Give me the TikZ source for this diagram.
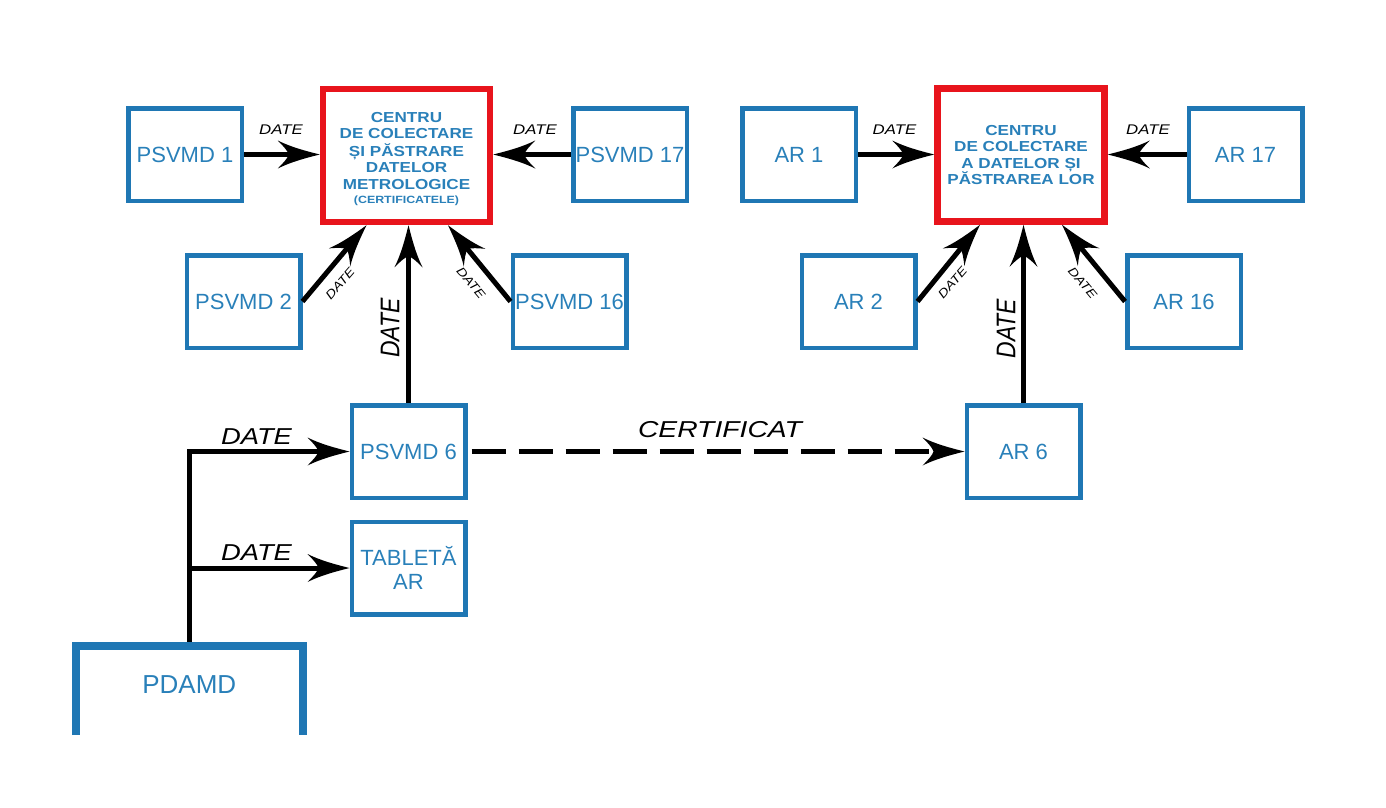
\documentclass[tikz,border=0pt]{standalone}
\usepackage{fontspec}
\usepackage{graphicx}
\setmainfont{Liberation Sans}
\newfontfamily\widef[FakeStretch=1.18]{Liberation Sans}
\usetikzlibrary{arrows.meta,calc}
\definecolor{bl}{RGB}{31,119,180}
\definecolor{blt}{RGB}{41,128,185}
\definecolor{rd}{RGB}{232,20,28}
\pgfdeclarearrow{
  name = CurvedHead,
  setup code = {
    \pgfarrowssettipend{0pt}
    \pgfarrowssetbackend{-42pt}
    \pgfarrowssetlineend{-28pt}
    \pgfarrowsupperhullpoint{0pt}{0pt}
    \pgfarrowsupperhullpoint{-42pt}{14pt}
  },
  drawing code = {
    \pgfpathmoveto{\pgfqpoint{0pt}{0pt}}
    \pgfpathcurveto{\pgfqpoint{-14pt}{3.5pt}}{\pgfqpoint{-29pt}{7.5pt}}{\pgfqpoint{-42pt}{14pt}}
    \pgfpathcurveto{\pgfqpoint{-36pt}{8pt}}{\pgfqpoint{-32pt}{3.5pt}}{\pgfqpoint{-31pt}{0pt}}
    \pgfpathcurveto{\pgfqpoint{-32pt}{-3.5pt}}{\pgfqpoint{-36pt}{-8pt}}{\pgfqpoint{-42pt}{-14pt}}
    \pgfpathcurveto{\pgfqpoint{-29pt}{-7.5pt}}{\pgfqpoint{-14pt}{-3.5pt}}{\pgfqpoint{0pt}{0pt}}
    \pgfpathclose
    \pgfusepathqfill
  }
}
\begin{document}
\begin{tikzpicture}[x=1pt,y=-1pt,
  bbox/.style={draw=bl, line width=4.5pt, minimum width=113.5pt, minimum height=92.5pt,
    inner sep=0pt, text=blt, font=\fontsize{22}{24}\selectfont, align=center},
  rbox/.style={draw=rd, line width=6.5pt, minimum width=167pt, minimum height=133pt,
    inner sep=0pt, text=blt, font=\widef\bfseries\fontsize{14.5}{16.5}\selectfont, align=center},
  arr/.style={line width=5pt, -{CurvedHead}},
  slbl/.style={inner sep=0pt, font=\itshape\fontsize{14}{14}\selectfont},
  dlbl/.style={inner sep=0pt, font=\itshape\fontsize{12}{12}\selectfont},
  vlbl/.style={inner sep=0pt, rotate=90, font=\itshape\fontsize{27}{27}\selectfont},
  blbl/.style={inner sep=0pt, font=\itshape\fontsize{23}{23}\selectfont}
]
\useasboundingbox (0,0) rectangle (1386,807);

% centres
\node[rbox] (c1) at (406.5,155.5) {\raisebox{-4pt}[\height][\depth]{\begin{tabular}{@{}c@{}}CENTRU\\DE COLECTARE\\ȘI PĂSTRARE\\DATELOR\\METROLOGICE\\[-2.5pt]{\fontsize{10.5}{12}\selectfont (CERTIFICATELE)}\end{tabular}}};
\node[rbox] (c2) at (1021,155) {CENTRU\\DE COLECTARE\\A DATELOR ȘI\\PĂSTRAREA LOR};

% left group
\node[bbox] (p1) at (185,154.5) {PSVMD 1};
\node[bbox] (p17) at (630,154.5) {PSVMD 17};
\node[bbox] (p2) at (243.5,301.5) {PSVMD 2};
\node[bbox] (p16) at (569.5,301.5) {PSVMD 16};
\node[bbox] (p6) at (408.5,451.5) {PSVMD 6};
\node[bbox] (tab) at (408.5,568) {TABLETĂ\\AR};

% right group
\node[bbox] (a1) at (799,154.5) {AR 1};
\node[bbox] (a17) at (1245.5,154.5) {AR 17};
\node[bbox] (a2) at (858.5,301.5) {AR 2};
\node[bbox] (a16) at (1184,301.5) {AR 16};
\node[bbox] (a6) at (1023.5,451.5) {AR 6};

% PDAMD
\node[minimum width=226.5pt, minimum height=89pt, inner sep=0pt, text=blt,
  font=\fontsize{26}{26}\selectfont] (pd) at (189.25,690.5) {\raisebox{11pt}{PDAMD}};

% connectors left
\draw[arr] (p1.east) -- (p1.east -| c1.west);
\draw[arr] (p17.west) -- (p17.west -| c1.east);
\draw[arr] (p2.east) -- ([xshift=-40pt]c1.south);
\draw[arr] (p16.west) -- ([xshift=41.5pt]c1.south);
\draw[arr] (p6.north) -- (p6.north |- c1.south);

% connectors right
\draw[arr] (a1.east) -- (a1.east -| c2.west);
\draw[arr] (a17.west) -- (a17.west -| c2.east);
\draw[arr] (a2.east) -- ([xshift=-41pt]c2.south);
\draw[arr] (a16.west) -- ([xshift=41pt]c2.south);
\draw[arr] (a6.north) -- (a6.north |- c2.south);

% PDAMD connectors
\draw[arr] (pd.north) |- (p6.west);
\draw[arr] (pd.north |- tab.west) -- (tab.west);
\draw[bl, line width=8pt] (pd.south west) -- (pd.north west) -- (pd.north east) -- (pd.south east);

% certificate
\draw[line width=5pt, dash pattern=on 34pt off 13pt, shorten <=4pt, -{CurvedHead}] (p6.east) -- (a6.west);

% labels
\node[slbl] (l1) at (281,130) {\scalebox{1.2}[1]{DATE}};
\node[slbl] (l2) at (535,130) {\scalebox{1.2}[1]{DATE}};
\node[slbl] (l3) at (894.5,130) {\scalebox{1.2}[1]{DATE}};
\node[slbl] (l4) at (1148,130) {\scalebox{1.2}[1]{DATE}};
\node[dlbl, rotate=49] (d1) at (340,284) {\scalebox{1.2}[1]{DATE}};
\node[dlbl, rotate=-50] (d2) at (471,283) {\scalebox{1.2}[1]{DATE}};
\node[dlbl, rotate=49] (d3) at (952.5,283) {\scalebox{1.2}[1]{DATE}};
\node[dlbl, rotate=-50] (d4) at (1082.6,283) {\scalebox{1.2}[1]{DATE}};
\node[vlbl] (v1) at (390,328) {\scalebox{0.85}[1]{DATE}};
\node[vlbl] (v2) at (1006,328.5) {\scalebox{0.85}[1]{DATE}};
\node[blbl] (b1) at (256.5,436.5) {\scalebox{1.19}[1]{DATE}};
\node[blbl] (b2) at (256.5,552.5) {\scalebox{1.19}[1]{DATE}};
\node[blbl] (cert) at (720,430) {\scalebox{1.23}[1]{CERTIFICAT}};
\end{tikzpicture}
\end{document}
